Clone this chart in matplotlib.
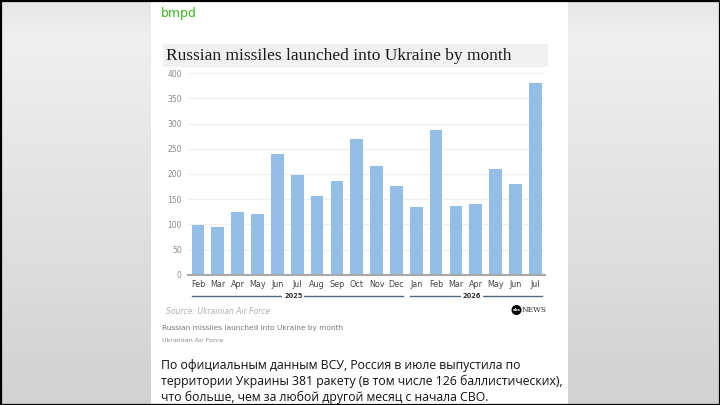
import numpy as np
import matplotlib
matplotlib.use("Agg")
import matplotlib.pyplot as plt
from matplotlib.patches import Rectangle, Circle
from matplotlib.transforms import blended_transform_factory

# data
months = ["Feb", "Mar", "Apr", "May", "Jun", "Jul", "Aug", "Sep", "Oct", "Nov", "Dec",
          "Jan", "Feb", "Mar", "Apr", "May", "Jun", "Jul"]
missiles = [99, 94, 124, 121, 239, 198, 156, 187, 269, 215, 176,
            134, 287, 137, 140, 210, 180, 381]
years = ["2025", "2026"]
year_spans = [(0, 10), (11, 17)]
yticks = [0, 50, 100, 150, 200, 250, 300, 350, 400]

title = "Russian missiles launched into Ukraine by month"
caption = "Russian missiles launched into Ukraine by month"
credit = "Ukrainian Air Force"
source = "Source: Ukrainian Air Force"
post_lines = [
    "По официальным данным ВСУ, Россия в июле выпустила по",
    "территории Украины 381 ракету (в том числе 126 баллистических),",
    "что больше, чем за любой другой месяц с начала СВО.",
]

W, H = 720, 405
fig = plt.figure(figsize=(W / 100, H / 100), dpi=100)

def fx(px):
    return px / W

def fy(py):
    return 1 - py / H

# grey page behind the post, light at the top and darker at the bottom
bg = fig.add_axes([0, 0, 1, 1], zorder=-10)
rows = np.linspace(0, 1, H)
shade = np.where(rows < 0.1, 0.90 + rows * 0.35, 0.935 - (rows - 0.1) * 0.13)
img = np.repeat(shade[:, None], W, axis=1)
bg.imshow(img, cmap="gray", vmin=0, vmax=1, aspect="auto", extent=[0, W, H, 0])
bg.add_patch(Rectangle((151, 0), 417, H, facecolor="white", edgecolor="none"))
bg.add_patch(Rectangle((0.5, 0.5), W - 1, H - 1, facecolor="none", edgecolor="black", lw=1.6))
bg.add_patch(Rectangle((163, 44), 385, 23, facecolor="#f1f1f1", edgecolor="none"))
bg.add_patch(Circle((516.5, 310), 5, facecolor="black", edgecolor="none"))
bg.set_xlim(0, W)
bg.set_ylim(H, 0)
bg.axis("off")

fig.text(fx(161), fy(13), "bmpd", color="#3cb521", fontsize=9, va="center",
         family="DejaVu Sans")
fig.text(fx(166), fy(56), title, family="Liberation Serif", fontsize=12.5,
         color="#1a1a1a", va="center")

# bar chart
top_px = 274.7 - 405 * 0.5035
ax = fig.add_axes([fx(188), fy(274.7), (545.3 - 188) / W, (274.7 - top_px) / H])
x = np.arange(len(months))
ax.bar(x, missiles, width=0.64, color="#94bee6", zorder=2)
ax.set_xlim(-0.5, 17.5)
ax.set_ylim(0, 405)
ax.set_yticks(yticks)
ax.set_xticks(x, months)
ax.tick_params(axis="y", length=0, labelsize=5.5, labelcolor="#8a8a8a", pad=4.5)
ax.tick_params(axis="x", length=0, labelsize=5.8, labelcolor="#444444", pad=3.5)
ax.grid(axis="y", color="#eeeeee", lw=0.9, zorder=0)
for s in ["top", "right", "left"]:
    ax.spines[s].set_visible(False)
ax.spines["bottom"].set_color("#a8a8a8")
ax.spines["bottom"].set_linewidth(1.5)

trans = blended_transform_factory(ax.transData, ax.transAxes)
for yr, (a, b) in zip(years, year_spans):
    ax.plot([a - 0.32, b + 0.32], [-0.105, -0.105], color="#4d6b80", lw=1.0,
            transform=trans, clip_on=False)
    ax.text((a + b) / 2 - 0.2, -0.105, yr, transform=trans, fontsize=4.8,
            fontweight="bold", color="#333333", ha="center", va="center",
            bbox=dict(facecolor="white", edgecolor="none", pad=1.2))

fig.text(fx(166), fy(312), source, fontsize=5.5, style="italic", color="#b0b0b0",
         va="center")
fig.text(fx(516.5), fy(310.2), "abc", fontsize=3.0, fontweight="bold", color="white",
         ha="center", va="center")
fig.text(fx(521.5), fy(310.3), "NEWS", fontsize=5.4, family="DejaVu Serif",
         color="#333333", va="center")
fig.text(fx(162), fy(328), caption, fontsize=5.3, color="#777777", va="center")
fig.text(fx(162), fy(340), credit, fontsize=4.6, color="#888888", va="center")

for i, line in enumerate(post_lines):
    fig.text(fx(161), fy(366 + 15.5 * i), line, fontsize=8.8, color="#111111",
             va="center", family="Open Sans")

fig.savefig("out.png", dpi=100)
